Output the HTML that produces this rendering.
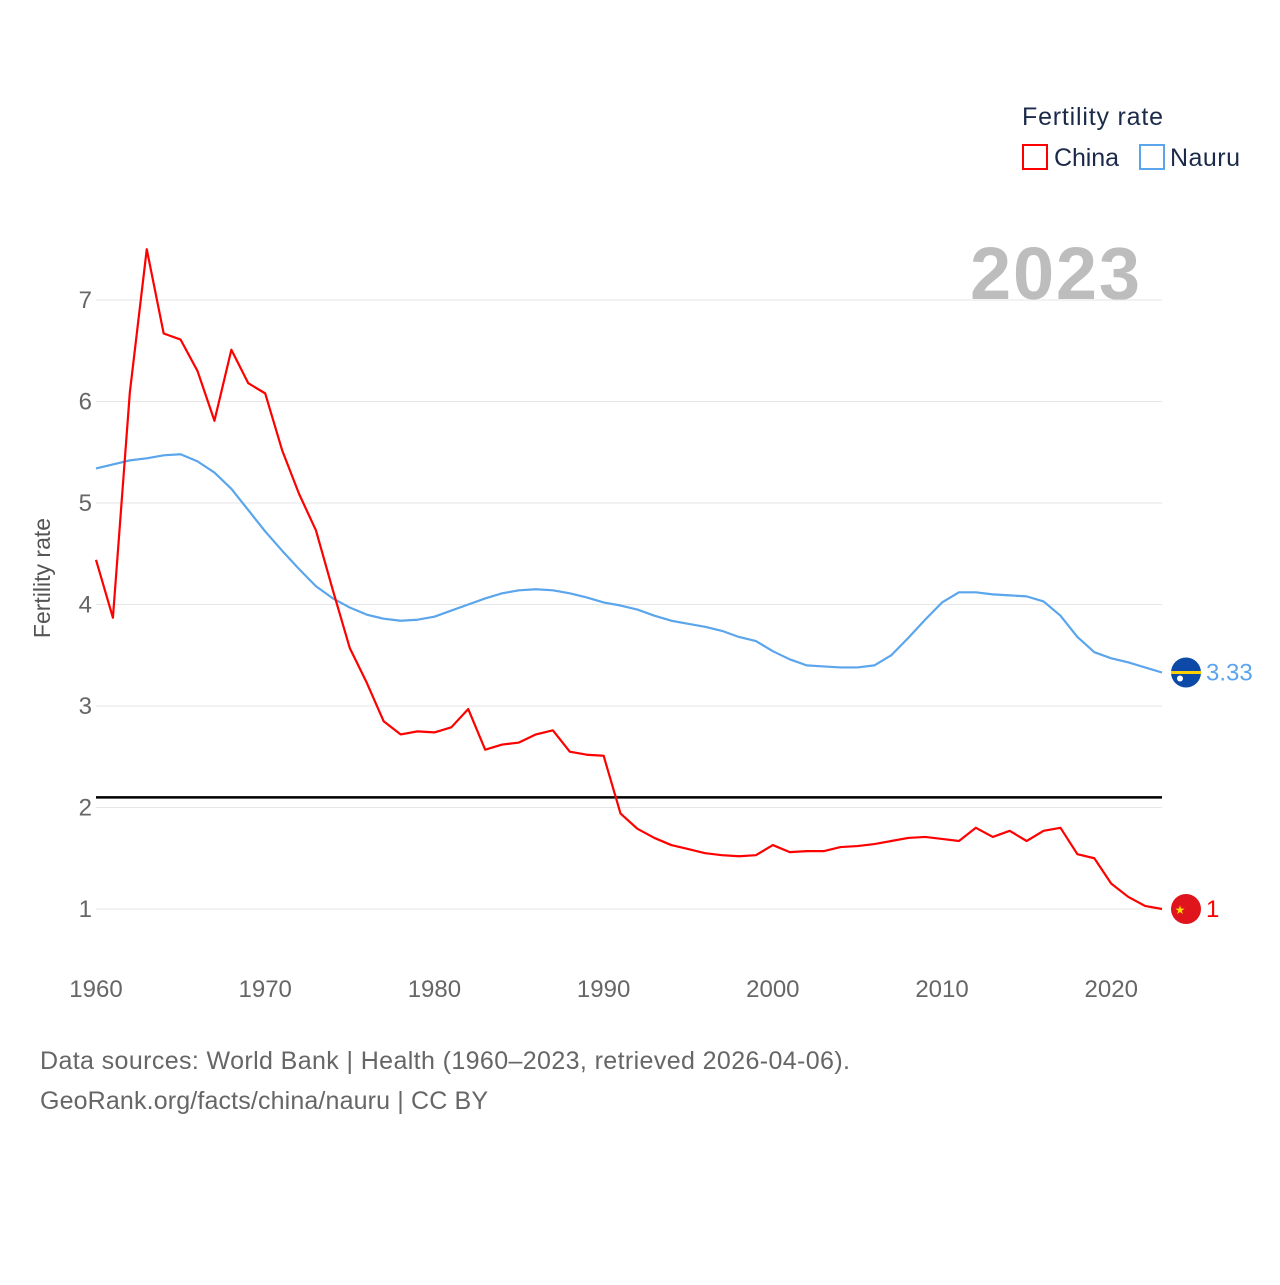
<!DOCTYPE html>
<html><head><meta charset="utf-8"><style>
body{margin:0;background:#fff;font-family:"Liberation Sans",sans-serif}
svg text{font-family:"Liberation Sans",sans-serif}
</style></head><body>
<svg id="chart" width="1280" height="1280" viewBox="0 0 1280 1280">
<text x="1022" y="125" font-size="25" fill="#1b2a4a" textLength="141">Fertility rate</text>
<g><rect x="1023" y="145" width="24" height="24" fill="none" stroke="#f00" stroke-width="2"/><text x="1054" y="166" font-size="25" fill="#1b2a4a" textLength="65">China</text></g>
<g><rect x="1140" y="145" width="24" height="24" fill="none" stroke="#5aa5ec" stroke-width="2"/><text x="1170" y="166" font-size="25" fill="#1b2a4a" textLength="70">Nauru</text></g>
<text x="1140" y="299" text-anchor="end" font-size="74" font-weight="bold" fill="#bdbdbd" textLength="170">2023</text>
<text transform="translate(50,578) rotate(-90)" text-anchor="middle" font-size="23" fill="#555">Fertility rate</text>
<g id="grid"></g><g id="yt"></g><g id="xt"></g><g id="lines"></g>
<text x="40" y="1069" font-size="25" fill="#666" textLength="810">Data sources: World Bank | Health (1960–2023, retrieved 2026-04-06).</text>
<text x="40" y="1109" font-size="25" fill="#666" textLength="448">GeoRank.org/facts/china/nauru | CC BY</text>
</svg>
<script>
const years=[];for(let y=1960;y<=2023;y++)years.push(y);
const china=[4.44,3.87,6.09,7.5,6.67,6.61,6.30,5.81,6.51,6.18,6.08,5.52,5.09,4.73,4.14,3.57,3.23,2.85,2.72,2.75,2.74,2.79,2.97,2.57,2.62,2.64,2.72,2.76,2.55,2.52,2.51,1.94,1.79,1.70,1.63,1.59,1.55,1.53,1.52,1.53,1.63,1.56,1.57,1.57,1.61,1.62,1.64,1.67,1.70,1.71,1.69,1.67,1.80,1.71,1.77,1.67,1.77,1.80,1.54,1.50,1.25,1.12,1.03,1.0];
const nauru=[5.34,5.38,5.42,5.44,5.47,5.48,5.41,5.30,5.14,4.93,4.72,4.53,4.35,4.18,4.06,3.97,3.90,3.86,3.84,3.85,3.88,3.94,4.00,4.06,4.11,4.14,4.15,4.14,4.11,4.07,4.02,3.99,3.95,3.89,3.84,3.81,3.78,3.74,3.68,3.64,3.54,3.46,3.40,3.39,3.38,3.38,3.40,3.50,3.67,3.85,4.02,4.12,4.12,4.10,4.09,4.08,4.03,3.89,3.68,3.53,3.47,3.43,3.38,3.33];
const yTicks=[1,2,3,4,5,6,7];
const xTicks=[1960,1970,1980,1990,2000,2010,2020];
const replacement=2.1;
const NS='http://www.w3.org/2000/svg';
const X=y=>96+(y-1960)*(1066/63);
const Y=v=>909-(v-1)*101.5;
function mk(tag,attrs,parent){const e=document.createElementNS(NS,tag);for(const k in attrs)e.setAttribute(k,attrs[k]);document.getElementById(parent).appendChild(e);return e;}
yTicks.forEach(t=>{
 const l=mk('line',{x1:96,x2:1162,y1:Y(t),y2:Y(t),stroke:'#e6e6e6','stroke-width':1},'grid');
 
 
 const tx=mk('text',{x:92,y:Y(t)+8,'text-anchor':'end','font-size':24,fill:'#666'},'yt');tx.textContent=t;
 
 
});
xTicks.forEach(t=>{
 const tx=mk('text',{x:X(t),y:997,'text-anchor':'middle','font-size':24,fill:'#666'},'xt');tx.textContent=t;
 
 
});
const rl=mk('line',{x1:96,x2:1162,y1:Y(replacement),y2:Y(replacement),stroke:'#000','stroke-width':2.5},'lines');


function series(vals,color,name){
 const p=mk('polyline',{points:vals.map((v,i)=>X(years[i])+','+Y(v)).join(' '),fill:'none',stroke:color,'stroke-width':2.2,'stroke-linejoin':'round'},'lines');
 
 
 const last=vals[vals.length-1];
 const c=mk('circle',{cx:1186,cy:Y(last),r:15,fill:name==='china'?'#e0141c':'#0d4aa8'},'lines');
 
 
 if(name==='nauru'){const s=mk('rect',{x:1171,y:Y(last)-1.5,width:30,height:3,fill:'#ffd000'},'lines');
  const st=mk('circle',{cx:1180,cy:Y(last)+6,r:3,fill:'#fff'},'lines');}
 else{const st=mk('text',{x:1180,y:Y(last)+5,'text-anchor':'middle','font-size':12,fill:'#ffde00'},'lines');st.textContent='★';}
 const t=mk('text',{x:1206,y:Y(last)+8,'font-size':24,fill:color},'lines');t.textContent=String(last);
 
 
}
series(nauru,'#5aa5ec','nauru');
series(china,'#f00','china');
</script>
</body></html>
